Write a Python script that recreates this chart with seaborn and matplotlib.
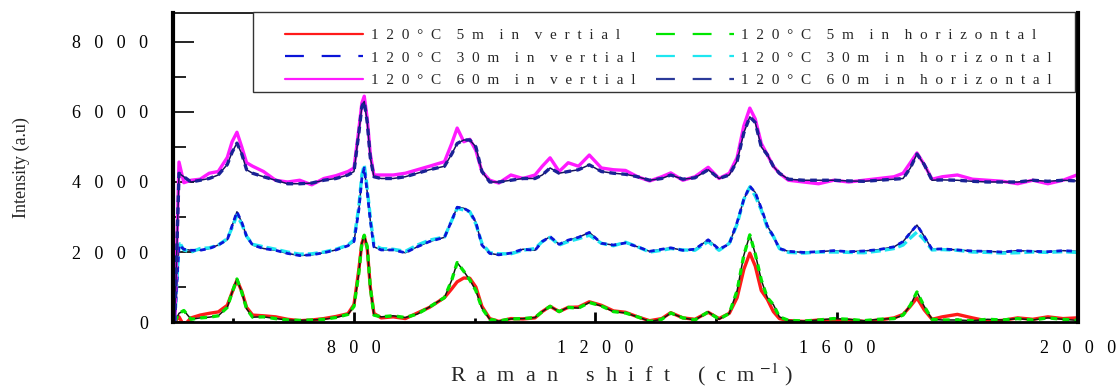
import pandas as pd
import matplotlib
matplotlib.use("Agg")
import matplotlib.pyplot as plt
from matplotlib.lines import Line2D
from matplotlib.patches import Rectangle
import seaborn as sns

# Raman shift axis (cm-1), shared by all six spectra
raman_shift = [
    503, 510, 518, 530, 545, 560, 575, 590, 598, 606,
    614, 622, 632, 650, 670, 690, 710, 730, 750, 770,
    790, 800, 808, 813, 817, 822, 827, 833, 845, 865,
    885, 905, 925, 950, 962, 971, 982, 992, 1002, 1012,
    1025, 1040, 1060, 1080, 1100, 1112, 1125, 1140, 1155, 1172,
    1190, 1210, 1230, 1250, 1270, 1290, 1310, 1325, 1345, 1365,
    1387, 1405, 1422, 1435, 1446, 1456, 1465, 1475, 1485, 1495,
    1505, 1520, 1545, 1570, 1595, 1620, 1645, 1670, 1695, 1710,
    1722, 1733, 1745, 1758, 1775, 1800, 1825, 1850, 1875, 1900,
    1925, 1950, 1975, 1998,
]

# 120 C, 5 min, vertical
v5 = [
    0, 150, -100, 120, 200, 250, 290, 480, 850, 1200,
    880, 420, 200, 180, 150, 80, 40, 60, 100, 160,
    240, 500, 1500, 2250, 2450, 2100, 1000, 250, 120, 150,
    100, 260, 420, 700, 950, 1150, 1260, 1250, 1000, 450,
    100, 20, 100, 90, 120, 300, 450, 300, 420, 430,
    580, 480, 320, 280, 150, 40, 100, 270, 120, 80,
    280, 100, 250, 700, 1500, 1970, 1600, 900, 650, 300,
    100, 40, 20, 60, 40, 60, 20, 60, 120, 220,
    450, 690, 350, 80, 150, 220, 120, 30, 50, 120,
    80, 150, 100, 120,
]

# 120 C, 5 min, horizontal
h5 = [
    0, 250, 330, 80, 120, 140, 180, 420, 850, 1230,
    850, 380, 140, 150, 100, 60, 50, 60, 80, 130,
    220, 450, 1400, 2250, 2480, 2150, 1000, 200, 150, 180,
    130, 230, 430, 700, 1200, 1700, 1450, 1200, 900, 400,
    80, 30, 90, 100, 130, 300, 450, 300, 420, 400,
    560, 460, 300, 260, 150, 20, 80, 260, 120, 60,
    290, 80, 250, 900, 1900, 2490, 1950, 1200, 700, 500,
    150, 50, 30, 60, 100, 80, 40, 80, 100, 200,
    480, 860, 450, 80, 60, 60, 40, 80, 60, 100,
    60, 120, 80, 50,
]

# 120 C, 30 min, vertical
v30 = [
    0, 2200, 2080, 2050, 2050, 2100, 2200, 2350, 2750, 3150,
    2850, 2450, 2200, 2100, 2050, 1960, 1900, 1920, 1980, 2060,
    2180, 2300, 3200, 4100, 4400, 3700, 2900, 2150, 2060, 2060,
    1980, 2150, 2300, 2420, 2900, 3280, 3250, 3150, 2850, 2200,
    1960, 1920, 1970, 2080, 2050, 2300, 2440, 2220, 2340, 2420,
    2560, 2250, 2200, 2260, 2150, 2020, 2080, 2120, 2050, 2080,
    2350, 2080, 2230, 2850, 3500, 3880, 3700, 3250, 2750, 2450,
    2100, 2020, 1990, 2010, 2040, 2010, 2030, 2070, 2150, 2300,
    2550, 2770, 2450, 2080, 2090, 2060, 2030, 2020, 2000, 2040,
    2020, 2010, 2040, 2020,
]

# 120 C, 30 min, horizontal
h30 = [
    0, 2300, 2060, 2000, 2100, 2120, 2200, 2380, 2700, 3050,
    2800, 2450, 2220, 2150, 2080, 2000, 1940, 1950, 2000, 2080,
    2200, 2350, 3300, 4200, 4490, 3800, 3000, 2200, 2100, 2080,
    2020, 2200, 2340, 2430, 2900, 3250, 3200, 3150, 2800, 2250,
    1980, 1950, 1950, 2050, 2100, 2300, 2420, 2200, 2300, 2380,
    2480, 2250, 2180, 2280, 2150, 2000, 2050, 2100, 2060, 2050,
    2300, 2050, 2250, 2800, 3500, 3860, 3600, 3200, 2700, 2450,
    2100, 1990, 1970, 2000, 2000, 1990, 1980, 2030, 2100, 2200,
    2400, 2570, 2350, 2060, 2070, 2050, 2000, 1990, 1970, 1980,
    2000, 1990, 2010, 1990,
]

# 120 C, 60 min, vertical
v60 = [
    0, 4570, 3980, 4050, 4080, 4250, 4300, 4700, 5150, 5420,
    5000, 4550, 4450, 4300, 4050, 4000, 4050, 3920, 4100, 4180,
    4300, 4400, 5500, 6250, 6450, 5800, 4800, 4200, 4200, 4200,
    4250, 4350, 4450, 4580, 5100, 5540, 5150, 5220, 4900, 4300,
    4050, 3970, 4200, 4100, 4200, 4450, 4690, 4300, 4550, 4450,
    4770, 4400, 4350, 4330, 4150, 4030, 4150, 4260, 4050, 4150,
    4420, 4100, 4250, 4700, 5600, 6110, 5800, 5100, 4780, 4450,
    4250, 4050, 4000, 3950, 4050, 4000, 4050, 4100, 4150, 4250,
    4550, 4830, 4500, 4080, 4150, 4200, 4080, 4050, 4020, 3950,
    4050, 3950, 4050, 4200,
]

# 120 C, 60 min, horizontal
h60 = [
    0, 4250, 4150, 4000, 4050, 4100, 4200, 4500, 4850, 5110,
    4800, 4350, 4250, 4150, 4050, 3950, 3950, 3970, 4050, 4100,
    4200, 4300, 5400, 6150, 6300, 5700, 4700, 4150, 4100, 4100,
    4150, 4250, 4350, 4450, 4800, 5100, 5200, 5200, 5000, 4300,
    4000, 4000, 4050, 4100, 4100, 4200, 4400, 4250, 4300, 4350,
    4490, 4300, 4250, 4220, 4150, 4050, 4100, 4200, 4080, 4120,
    4350, 4100, 4200, 4600, 5400, 5860, 5700, 5000, 4780, 4450,
    4250, 4080, 4050, 4050, 4050, 4030, 4020, 4050, 4080, 4100,
    4400, 4800, 4500, 4050, 4060, 4050, 4020, 4000, 4000, 4000,
    4050, 4020, 4050, 4030,
]

x_ticks = [800, 1200, 1600, 2000]
x_minor = [600, 1000, 1400, 1800]
y_ticks = [0, 2000, 4000, 6000, 8000]
y_minor = [1000, 3000, 5000, 7000]


def spread(text, gap="  ", word_gap="    "):
    # imitate the wide letter spacing of the original figure
    return word_gap.join(gap.join(w) for w in text.split(" "))


sns.set_style("ticks")
plt.rcParams["font.family"] = ["Liberation Serif", "DejaVu Serif"]
plt.rcParams["mathtext.fontset"] = "stix"

df = pd.concat([
    pd.DataFrame({"shift": raman_shift, "intensity": v, "series": name})
    for name, v in [("v5", v5), ("h5", h5), ("v30", v30),
                    ("h30", h30), ("v60", v60), ("h60", h60)]
])

fig = plt.figure(figsize=(11.16, 3.89), dpi=100)
ax = fig.add_axes([0.155, 0.172, 0.811, 0.795])

dash = (0, (2, 1.6))


def draw(name, **kws):
    sns.lineplot(data=df[df["series"] == name], x="shift", y="intensity",
                 sort=False, estimator=None, ax=ax, legend=False, **kws)


# 5 min group
draw("v5", color="#ff1a1a", lw=2.4)
draw("h5", color="#102010", lw=1.1)
draw("h5", color="#00e600", lw=2.4, linestyle=dash)
# 30 min group
draw("v30", color="#14145e", lw=1.1)
draw("h30", color="#1ee6f0", lw=2.4, linestyle=(0, (3, 1.2)))
draw("v30", color="#0a14d8", lw=2.0, linestyle=dash)
# 60 min group
draw("v60", color="#ff1aff", lw=2.4)
draw("h60", color="#14145e", lw=1.1)
draw("h60", color="#1a2296", lw=2.4, linestyle=dash)

ax.set_xlim(500, 2000)
ax.set_ylim(0, 8830)

ax.set_xticks(x_ticks)
ax.set_xticklabels([spread(str(t), gap="   ") for t in x_ticks])
ax.set_xticks(x_minor, minor=True)
ax.set_yticks(y_ticks)
ax.set_yticklabels([spread(str(t), gap="   ") for t in y_ticks])
ax.set_yticks(y_minor, minor=True)

ax.tick_params(axis="both", which="both", direction="in", labelsize=13,
               colors="black")
ax.tick_params(axis="y", which="major", length=15, width=1.2, pad=18)
ax.tick_params(axis="y", which="minor", length=9, width=1.2)
ax.tick_params(axis="x", which="major", length=7, width=2, pad=13)
ax.tick_params(axis="x", which="minor", length=3, width=2)

for side, w in [("left", 3), ("bottom", 2), ("right", 3), ("top", 1.2)]:
    ax.spines[side].set_visible(True)
    ax.spines[side].set_linewidth(w)
    ax.spines[side].set_color("black")

ax.set_xlabel(spread("Raman shift", gap="  ", word_gap="     ")
              + "     (  c  m $^{-1}$ )", fontsize=16)
ax.xaxis.set_label_coords(0.496, -0.128)
ax.set_ylabel("Intensity (a.u)", fontsize=13)
ax.yaxis.set_label_coords(-0.158, 0.5)

# legend box, drawn separately so the side margins match the original
ax.add_patch(Rectangle((0.0884, 0.744), 0.9083, 0.259, transform=ax.transAxes,
                       facecolor="white", edgecolor="#333333", lw=1.0,
                       zorder=4, clip_on=False))

handles = [
    Line2D([], [], color="#ff1a1a", lw=1.6),
    Line2D([], [], color="#0a14d8", lw=1.6, linestyle=(0, (8.5, 8))),
    Line2D([], [], color="#ff1aff", lw=1.6),
    Line2D([], [], color="#00e600", lw=1.6, linestyle=(0, (8.5, 8))),
    Line2D([], [], color="#1ee6f0", lw=1.6, linestyle=(0, (8.5, 8))),
    Line2D([], [], color="#2b3a9a", lw=1.6, linestyle=(0, (8.5, 8))),
]
labels = [spread("120°C 5m in vertial"), spread("120°C 30m in vertial"),
          spread("120°C 60m in vertial"), spread("120°C 5m in horizontal"),
          spread("120°C 30m in horizontal"), spread("120°C 60m in horizontal")]
leg = ax.legend(handles, labels, ncol=2, loc="upper left",
                bbox_to_anchor=(0.124, 0.95), borderaxespad=0,
                fontsize=11, handlelength=5.1, handletextpad=0.5,
                columnspacing=1.35, labelspacing=0.58, borderpad=0,
                frameon=False)
leg.set_zorder(5)

fig.savefig("out.png", dpi=100)
